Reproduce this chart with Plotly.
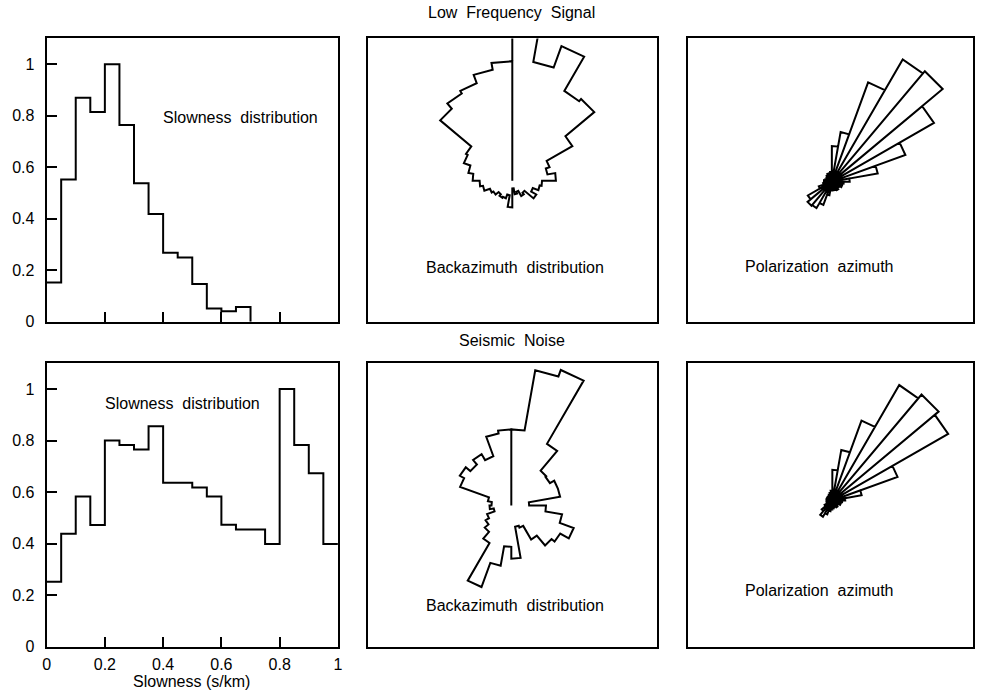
import numpy as np
import plotly.graph_objects as go

# ---------------- data ----------------
# slowness histogram bin edges (s/km)
slow_edges = [0.0, 0.05, 0.1, 0.15, 0.2, 0.25, 0.3, 0.35, 0.4, 0.45, 0.5,
              0.55, 0.6, 0.65, 0.7, 0.75, 0.8, 0.85, 0.9, 0.95, 1.0]
# normalised counts per bin
slow_lf = [0.153, 0.553, 0.870, 0.815, 1.0, 0.764, 0.538, 0.419, 0.268, 0.250,
           0.147, 0.052, 0.041, 0.057, 0.0, 0.0, 0.0, 0.0, 0.0, 0.0]
slow_noise = [0.252, 0.438, 0.583, 0.472, 0.800, 0.783, 0.765, 0.855, 0.636, 0.636,
              0.618, 0.583, 0.473, 0.455, 0.455, 0.398, 1.0, 0.783, 0.673, 0.398]

# azimuth bins (degrees, clockwise from north), 10 degree width
az_bins = [0, 10, 20, 30, 40, 50, 60, 70, 80, 90, 100, 110, 120, 130, 140, 150, 160, 170,
           180, 190, 200, 210, 220, 230, 240, 250, 260, 270, 280, 290, 300, 310, 320, 330, 340, 350]
az_width = 10

# backazimuth rose counts (relative)
baz_lf = [170, 122, 145, 105, 108, 70, 40, 36, 44, 30, 28, 22, 28, 16, 18, 12, 14, 8,
          27, 15, 19, 20, 18, 22, 24, 30, 33, 40, 45, 52, 54, 95, 102, 105, 114, 121]
baz_noise = [77, 139, 146, 72, 46, 45, 50, 50, 18, 35, 52, 67, 57, 53, 40, 24, 22, 54,
             42, 62, 88, 44, 35, 30, 26, 18, 22, 20, 24, 55, 60, 54, 60, 53, 74, 77]

# polarization azimuth rose counts (relative)
pol_lf = [36, 51, 107, 143, 146, 119, 79, 47, 18, 12, 10, 11, 8, 9, 10, 7, 9, 7,
          9, 14, 25, 31, 32, 28, 14, 9, 7, 8, 7, 6, 6, 7, 8, 9, 7, 10]
pol_noise = [31, 52, 86, 135, 140, 135, 70, 30, 13, 10, 8, 9, 7, 6, 8, 7, 6, 8,
             9, 11, 15, 19, 14, 9, 6, 5, 6, 6, 6, 5, 5, 6, 6, 7, 8, 10]

titles = ["Low  Frequency  Signal", "Seismic  Noise"]
x_ticks = [0, 0.2, 0.4, 0.6, 0.8, 1]
x_ticktext = ["0", "0.2", "0.4", "0.6", "0.8", "1"]
y_ticks = [0, 0.2, 0.4, 0.6, 0.8, 1]
y_ticktext = ["0", "0.2", "0.4", "0.6", "0.8", "1"]

# ---------------- helpers ----------------
def rose_outline(radii, bins, width):
    xs, ys = [0.0], [0.0]
    for r, a in zip(radii, bins):
        for t in (a, a + width):
            th = np.radians(t)
            xs.append(r * np.sin(th))
            ys.append(r * np.cos(th))
    xs.append(0.0)
    ys.append(0.0)
    return xs, ys


def rose_petals(radii, bins, width):
    xs, ys = [0.0], [0.0]
    for r, a in zip(radii, bins):
        for t in (a, a + width):
            th = np.radians(t)
            xs.append(r * np.sin(th))
            ys.append(r * np.cos(th))
        xs.append(0.0)
        ys.append(0.0)
    return xs, ys


def hist_step(edges, vals):
    # outline of the histogram; stop after the last non-empty bin
    last = max(i for i, v in enumerate(vals) if v > 0)
    xs = list(edges[:last + 2])
    ys = list(vals[:last + 1]) + [vals[last]]
    if last + 1 < len(vals):
        xs.append(edges[last + 1])
        ys.append(0.0)
    return xs, ys


W, H = 983, 698
FONT = "Liberation Sans, Arial, Helvetica, sans-serif"
LINE = dict(color="black", width=2)

fig = go.Figure()

# histograms
for i, vals in enumerate([slow_lf, slow_noise]):
    ax = "" if i == 0 else "4"
    xs, ys = hist_step(slow_edges, vals)
    fig.add_trace(go.Scatter(x=xs, y=ys, mode="lines",
                             line=dict(color="black", width=2, shape="hv"),
                             xaxis="x" + ax, yaxis="y" + ax, hoverinfo="skip"))

# backazimuth roses
for vals, ax in [(baz_lf, "2"), (baz_noise, "5")]:
    xs, ys = rose_outline(vals, az_bins, az_width)
    fig.add_trace(go.Scatter(x=xs, y=ys, mode="lines", line=LINE,
                             xaxis="x" + ax, yaxis="y" + ax, hoverinfo="skip"))

# polarization roses
for vals, ax in [(pol_lf, "3"), (pol_noise, "6")]:
    xs, ys = rose_petals(vals, az_bins, az_width)
    fig.add_trace(go.Scatter(x=xs, y=ys, mode="lines", line=LINE,
                             xaxis="x" + ax, yaxis="y" + ax, hoverinfo="skip"))

# invisible traces so that the label-carrying overlay axes are drawn
for xa_, ya_ in [("x", "y7"), ("x4", "y8"), ("x7", "y4")]:
    fig.add_trace(go.Scatter(x=[None], y=[None], mode="lines", xaxis=xa_, yaxis=ya_,
                             hoverinfo="skip", showlegend=False))

# ---------------- layout ----------------
def px_x(a, b):
    return [a / W, b / W]


def px_y(top, bottom):
    return [1 - bottom / H, 1 - top / H]


xdom = [px_x(43, 337), px_x(367, 659), px_x(690, 978)]
ydom = [px_y(39, 326), px_y(368, 655)]

box = dict(showline=True, linecolor="black", linewidth=2, mirror=True,
           showgrid=False, zeroline=False)

layout = dict(width=W, height=H, margin=dict(l=0, r=0, t=0, b=0),
              paper_bgcolor="white", plot_bgcolor="white", showlegend=False,
              font=dict(family=FONT, size=16, color="black"))

# rose axis ranges (centre of rose located inside each box)
rose_ranges = {
    "2": ([-146, 146], [-143, 144]),
    "3": ([-145.5, 142.5], [-142, 145]),
    "5": ([-145, 147], [-143, 144]),
    "6": ([-146, 142], [-148, 139]),
}

for row in range(2):
    for col in range(3):
        n = row * 3 + col + 1
        key = "" if n == 1 else str(n)
        xa = dict(box, domain=xdom[col], anchor="y" + key)
        ya = dict(box, domain=ydom[row], anchor="x" + key)
        if col == 0:
            xa.update(range=[0, 1], tickvals=x_ticks[1:-1] if row == 0 else x_ticks,
                      ticks="inside", ticklen=10, tickwidth=2, tickcolor="black",
                      showticklabels=False)
            ya.update(range=[0, 1.1], tickvals=y_ticks,
                      ticks="inside", ticklen=10, tickwidth=2, tickcolor="black",
                      showticklabels=False)
        else:
            xr, yr = rose_ranges[str(n)]
            xa.update(range=xr, showticklabels=False, ticks="")
            ya.update(range=yr, showticklabels=False, ticks="")
        layout["xaxis" + key] = xa
        layout["yaxis" + key] = ya

# overlay axes carrying the tick labels, pushed away from the frame
lab = dict(showline=False, showgrid=False, zeroline=False, ticks="outside",
           tickcolor="rgba(0,0,0,0)", tickwidth=1, tickfont=dict(size=16))
layout["yaxis7"] = dict(lab, overlaying="y", anchor="x", side="left", range=[0, 1.1],
                        tickvals=y_ticks, ticktext=y_ticktext, ticklen=8)
layout["yaxis8"] = dict(lab, overlaying="y4", anchor="x4", side="left", range=[0, 1.1],
                        tickvals=y_ticks, ticktext=y_ticktext, ticklen=8)
layout["xaxis7"] = dict(lab, overlaying="x4", anchor="y4", side="bottom", range=[0, 1],
                        tickvals=x_ticks, ticktext=x_ticktext, ticklen=3)

ann = []
def add_text(t, x, y, yanchor="middle", yshift=0):
    ann.append(dict(text=t, x=x / W, y=1 - y / H, xref="paper", yref="paper",
                    xanchor="center", yanchor=yanchor, yshift=yshift, showarrow=False,
                    font=dict(size=16, family=FONT)))

add_text(titles[0], 512, 13)
add_text(titles[1], 513, 344.5)
add_text("Slowness  distribution", 238.5, 119)
add_text("Slowness  distribution", 180, 409)
add_text("Backazimuth  distribution", 515.5, 271)
add_text("Backazimuth  distribution", 515.5, 613.5)
add_text("Polarization  azimuth", 823.5, 270)
add_text("Polarization  azimuth", 823.5, 598.5)
add_text("Slowness (s/km)", 189.5, 698, yanchor="bottom", yshift=-3)
layout["annotations"] = ann

fig.update_layout(**layout)
fig.write_html("out.html")
